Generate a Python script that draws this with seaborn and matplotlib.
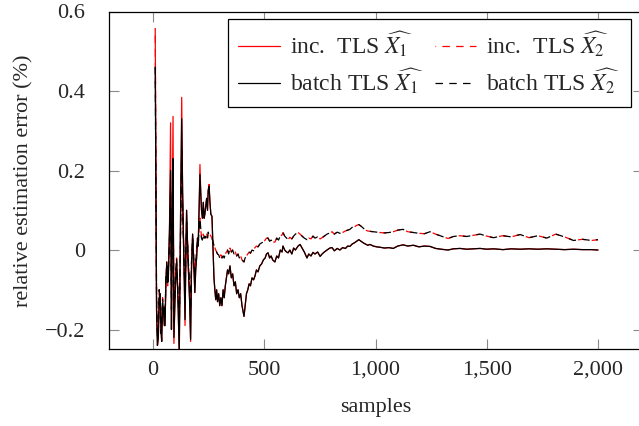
import matplotlib
matplotlib.use("Agg")
import matplotlib.pyplot as plt
import seaborn as sns
import pandas as pd
from matplotlib.ticker import FixedLocator, FixedFormatter

# ---------------- data ----------------
samples_early = [10, 16, 20, 24, 28, 32, 36, 39, 43, 47,
                 51, 54, 58, 62, 66, 69, 74, 79, 83, 86,
                 90, 94, 100, 106, 112, 118, 124, 129, 133, 136,
                 140, 144, 148, 151, 155, 159, 164, 169, 173, 178,
                 183, 188, 192, 196, 200, 203, 207, 211, 215, 218,
                 222, 226, 230, 233, 237, 241, 245, 248, 252, 256,
                 260, 265]
batch_x1_early = [0.46, -0.15, -0.24, -0.22, -0.12, -0.11, -0.20, -0.23, -0.14, -0.15,
                  -0.19, -0.19, -0.08, -0.03, -0.08, -0.07, 0.05, 0.20, -0.20, 0.05,
                  0.23, -0.22, -0.10, -0.03, -0.12, -0.26, 0.10, 0.33, 0.15, 0.06,
                  -0.05, -0.175, 0.0, 0.10, 0.02, -0.05, -0.12, -0.225, -0.05, 0.04,
                  -0.03, -0.107, -0.05, -0.02, 0.03, 0.01, 0.10, 0.19, 0.14, 0.10,
                  0.08, 0.12, 0.08, 0.09, 0.11, 0.13, 0.10, 0.15, 0.16, 0.12,
                  0.09, 0.085]
batch_x2_early = [0.46, -0.12, -0.22, -0.20, -0.10, -0.13, -0.21, -0.18, -0.12, -0.16,
                  -0.14, -0.17, -0.07, -0.04, -0.09, -0.05, 0.02, 0.15, -0.15, 0.0,
                  0.18, -0.18, -0.08, -0.02, -0.10, -0.20, 0.05, 0.25, 0.10, 0.04,
                  -0.04, -0.12, 0.0, 0.07, 0.02, -0.03, -0.08, -0.15, -0.03, 0.03,
                  -0.02, -0.07, -0.03, 0.0, 0.02, 0.01, 0.05, 0.08, 0.05, 0.03,
                  0.025, 0.04, 0.03, 0.035, 0.03, 0.04, 0.03, 0.045, 0.04, 0.04,
                  0.035, 0.03]

samples_mid = [270, 274, 278, 282, 286, 290, 295, 300, 305, 310,
               315, 320, 325, 330, 335, 340, 346, 352, 358, 364,
               370, 376, 382, 388, 394, 400, 405, 409, 414, 420,
               426, 432, 438, 445, 452, 458, 465, 472, 480, 488,
               496, 504, 510, 517, 524, 531, 538, 548, 556, 564,
               572, 580, 584, 592, 600, 607, 615, 624, 632, 640]
batch_x1_mid = [0.0, -0.07, -0.10, -0.125, -0.10, -0.13, -0.11, -0.14, -0.12, -0.14,
                -0.10, -0.12, -0.09, -0.07, -0.05, -0.06, -0.04, -0.07, -0.06, -0.09,
                -0.08, -0.11, -0.10, -0.12, -0.11, -0.14, -0.155, -0.167, -0.14, -0.11,
                -0.10, -0.085, -0.09, -0.07, -0.075, -0.066, -0.05, -0.055, -0.04, -0.035,
                -0.025, -0.02, -0.01, -0.007, -0.02, -0.015, -0.025, -0.03, -0.015, -0.02,
                0.0, -0.005, 0.01, 0.0, -0.005, -0.007, 0.0, -0.01, 0.005, 0.0]
batch_x2_mid = [0.02, 0.012, 0.006, 0.0, -0.005, -0.01, -0.012, -0.02, -0.012, -0.02,
                -0.015, -0.02, -0.01, -0.005, 0.0, -0.01, 0.005, -0.005, 0.0, -0.01,
                -0.005, -0.015, -0.01, -0.02, -0.015, -0.025, -0.028, -0.03, -0.02, -0.015,
                -0.01, -0.005, -0.008, 0.0, -0.002, 0.006, 0.01, 0.008, 0.015, 0.018,
                0.02, 0.025, 0.03, 0.03, 0.022, 0.025, 0.02, 0.02, 0.03, 0.025,
                0.035, 0.038, 0.044, 0.035, 0.03, 0.026, 0.032, 0.028, 0.035, 0.04]

samples_late = [652, 661, 670, 680, 692, 700, 710, 719, 728, 740,
                751, 760, 770, 782, 795, 805, 815, 828, 840, 852,
                865, 875, 885, 895, 905, 915, 925, 935, 945, 955,
                965, 975, 990, 1005, 1020, 1040, 1060, 1080, 1100, 1124,
                1145, 1170, 1195, 1220, 1245, 1270, 1295, 1326, 1350, 1380,
                1410, 1440, 1470, 1500, 1530, 1573, 1610, 1650, 1690, 1730,
                1770, 1810, 1850, 1890, 1930, 1970, 2000]
batch_x1_late = [0.01, 0.014, 0.005, -0.005, -0.02, -0.01, -0.015, -0.006, -0.01, -0.005,
                 -0.016, -0.01, -0.005, 0.0, 0.005, 0.006, -0.002, 0.004, 0.0, 0.006,
                 0.004, 0.01, 0.009, 0.015, 0.018, 0.022, 0.026, 0.022, 0.018, 0.015,
                 0.012, 0.014, 0.01, 0.008, 0.007, 0.005, 0.006, 0.004, 0.01, 0.013,
                 0.01, 0.012, 0.008, 0.01, 0.009, 0.004, 0.002, 0.0, 0.003, 0.004,
                 0.002, 0.003, 0.004, 0.002, 0.003, 0.001, 0.003, 0.002, 0.003, 0.002,
                 0.003, 0.002, 0.001, 0.002, 0.001, 0.001, 0.0]
batch_x2_late = [0.044, 0.04, 0.035, 0.03, 0.026, 0.03, 0.028, 0.035, 0.03, 0.033,
                 0.028, 0.031, 0.035, 0.04, 0.043, 0.046, 0.04, 0.045, 0.042, 0.044,
                 0.048, 0.05, 0.052, 0.057, 0.058, 0.062, 0.064, 0.06, 0.055, 0.05,
                 0.048, 0.047, 0.046, 0.045, 0.044, 0.043, 0.044, 0.046, 0.05, 0.052,
                 0.046, 0.044, 0.042, 0.041, 0.046, 0.04, 0.035, 0.029, 0.034, 0.036,
                 0.034, 0.037, 0.04, 0.035, 0.031, 0.036, 0.033, 0.039, 0.031, 0.036,
                 0.03, 0.04, 0.033, 0.024, 0.027, 0.024, 0.026]

# incremental TLS differs from batch TLS only at the early peaks
inc_x1_peaks = {10: 0.557, 79: 0.32, 90: 0.336, 94: -0.235, 118: -0.27,
                129: 0.384, 144: -0.19, 169: -0.23, 211: 0.215, 252: 0.165}
inc_x2_peaks = {10: 0.557}

xtick_values = [0, 500, 1000, 1500, 2000]
xtick_labels = ["0", "500", "1,000", "1,500", "2,000"]
ytick_values = [-0.2, 0, 0.2, 0.4, 0.6]
ytick_labels = ["\u22120.2", "0", "0.2", "0.4", "0.6"]

series_labels = [r"inc.  TLS $\widehat{X_1}$", r"batch TLS $\widehat{X_1}$",
                 r"inc.  TLS $\widehat{X_2}$", r"batch TLS $\widehat{X_2}$"]

# ---------------- assemble ----------------
samples = samples_early + samples_mid + samples_late
batch_x1 = batch_x1_early + batch_x1_mid + batch_x1_late
batch_x2 = batch_x2_early + batch_x2_mid + batch_x2_late
inc_x1 = [inc_x1_peaks.get(s, v) for s, v in zip(samples, batch_x1)]
inc_x2 = [inc_x2_peaks.get(s, v) for s, v in zip(samples, batch_x2)]
df = pd.DataFrame({"samples": samples, "inc_x1": inc_x1, "inc_x2": inc_x2,
                   "batch_x1": batch_x1, "batch_x2": batch_x2})

# ---------------- style ----------------
sns.set_style("white")
plt.rcParams["font.family"] = ["Liberation Serif", "DejaVu Serif"]
plt.rcParams["mathtext.fontset"] = "stix"
plt.rcParams["axes.unicode_minus"] = True

FS = 16

fig = plt.figure(figsize=(6.39, 4.26), dpi=100)
ax = fig.add_axes([108.5 / 639, 76.6 / 426, 534 / 639, 337.9 / 426])

lw = 0.9
h1 = sns.lineplot(data=df, x="samples", y="inc_x1", ax=ax, color="red", lw=lw,
                  estimator=None, sort=False, label=series_labels[0]).lines[-1]
h3 = sns.lineplot(data=df, x="samples", y="inc_x2", ax=ax, color="red", lw=lw,
                  linestyle=(5.5, (6.0, 5.0)), estimator=None, sort=False,
                  label=series_labels[2]).lines[-1]
h2 = sns.lineplot(data=df, x="samples", y="batch_x1", ax=ax, color="black", lw=lw,
                  estimator=None, sort=False, label=series_labels[1]).lines[-1]
h4 = sns.lineplot(data=df, x="samples", y="batch_x2", ax=ax, color="black", lw=lw,
                  linestyle=(0, (6.0, 5.0)), estimator=None, sort=False,
                  label=series_labels[3]).lines[-1]

ax.set_xlim(-200, 2200)
ax.set_ylim(-0.25, 0.6)
ax.xaxis.set_major_locator(FixedLocator(xtick_values))
ax.xaxis.set_major_formatter(FixedFormatter(xtick_labels))
ax.yaxis.set_major_locator(FixedLocator(ytick_values))
ax.yaxis.set_major_formatter(FixedFormatter(ytick_labels))

ax.tick_params(axis="both", which="major", direction="in", length=7.5, width=0.8,
               color="#8a8a8a", labelsize=FS, top=True, right=True,
               bottom=True, left=True)
ax.tick_params(axis="y", pad=17)
ax.tick_params(axis="x", pad=8)
for sp in ax.spines.values():
    sp.set_color("black")
    sp.set_linewidth(0.9)

ax.set_xlabel("samples", fontsize=FS, labelpad=13)
ax.set_ylabel("relative estimation error (%)", fontsize=FS, labelpad=8)

leg = ax.legend(handles=[h1, h2, h3, h4], labels=[series_labels[0], series_labels[1],
                series_labels[2], series_labels[3]],
                ncol=2, loc="upper right", bbox_to_anchor=(0.978, 0.978),
                borderaxespad=0, fontsize=17, frameon=True, fancybox=False,
                framealpha=1, edgecolor="black", handlelength=1.75,
                handletextpad=0.45, columnspacing=0.45, labelspacing=0.3,
                borderpad=0.45)
leg.get_frame().set_linewidth(0.9)

fig.savefig("out.png", dpi=100)
